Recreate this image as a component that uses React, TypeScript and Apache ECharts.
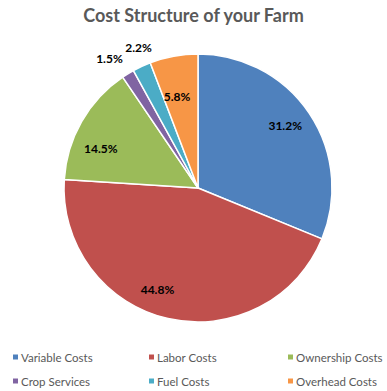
import React, { useEffect, useRef } from "react";
import * as echarts from "echarts";

const categories = ["Variable Costs", "Labor Costs", "Ownership Costs", "Crop Services", "Fuel Costs", "Overhead Costs"];
const values = [31.2, 44.8, 14.5, 1.5, 2.2, 5.8];
const colors = ["#4F81BD", "#C0504D", "#9BBB59", "#8064A2", "#4BACC6", "#F79646"];
const labelOffsets = [[0, -4], [-17, -1], [-6, 13], [-6, 5], [4, -3], [-2, 12]];

export default function App() {
  const ref = useRef<HTMLDivElement>(null);
  useEffect(() => {
    if (!ref.current) return;
    const chart = echarts.init(ref.current, null, { renderer: "svg" });
    const font = "Lato, 'Open Sans', sans-serif";
    const labelStyle = { fontSize: 12, fontWeight: "bold" as const, color: "#000", fontFamily: font };
    const legendBase = {
      orient: "vertical" as const,
      top: 351,
      height: 60,
      padding: 0,
      itemWidth: 7,
      itemHeight: 7,
      itemGap: 12,
      icon: "rect",
      textStyle: { fontSize: 11.5, color: "#595959", fontFamily: font, padding: [0, 0, 0, -3] },
    };
    const pieBase = {
      type: "pie" as const,
      center: [198, 188],
      startAngle: 90,
      clockwise: true,
      silent: true,
    };
    // transparent helper pies that carry the labels at a given radial distance
    const labelPie = (outer: number, shown: number[], suffix: string) => ({
      ...pieBase,
      radius: [0, outer],
      legendHoverLink: false,
      itemStyle: { color: "transparent", borderWidth: 0 },
      label: { show: true, position: "inside", formatter: "{c}%", ...labelStyle },
      labelLine: { show: false },
      labelLayout: { hideOverlap: false },
      data: categories.map((name, i) => ({
        name: name + suffix,
        value: values[i],
        label: shown.includes(i) ? { offset: labelOffsets[i] } : { show: false },
      })),
    });
    chart.setOption({
      animation: false,
      color: colors,
      title: {
        text: "Cost Structure of your Farm",
        left: "center",
        top: 1,
        textStyle: { fontSize: 18, fontWeight: "bold", color: "#595959", fontFamily: font },
      },
      legend: [
        { ...legendBase, left: 11, data: [categories[0], categories[3]] },
        { ...legendBase, left: 147, data: [categories[1], categories[4]] },
        { ...legendBase, left: 286, data: [categories[2], categories[5]] },
      ],
      series: [
        {
          ...pieBase,
          radius: [0, 134],
          itemStyle: { borderColor: "#fff", borderWidth: 1.5 },
          label: { show: false },
          labelLine: { show: false },
          data: categories.map((name, i) => ({ name, value: values[i] })),
        },
        labelPie(204, [0, 1, 2, 5], " "),
        labelPie(310, [3], "  "),
        labelPie(296, [4], "   "),
      ],
    });
    return () => chart.dispose();
  }, []);
  return <div ref={ref} style={{ position: "absolute", left: 0, top: 0, width: 387, height: 391, background: "#fff" }} />;
}
